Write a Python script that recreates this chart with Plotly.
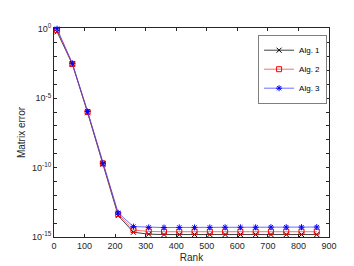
import plotly.graph_objects as go

rank = [10, 60, 110, 160, 210, 260, 310, 360, 410, 460, 510, 560, 610, 660, 710, 760, 810, 860]
alg1 = [0.6, 2.8e-3, 8.9e-7, 1.8e-10, 3.5e-14, 2.2e-15, 1.6e-15, 1.5e-15, 1.5e-15, 1.5e-15, 1.5e-15,
        1.5e-15, 1.5e-15, 1.5e-15, 1.5e-15, 1.5e-15, 1.5e-15, 1.5e-15]
alg2 = [0.8, 2.9e-3, 1.0e-6, 2.0e-10, 4.5e-14, 3.2e-15, 2.5e-15, 2.4e-15, 2.4e-15, 2.4e-15, 2.4e-15,
        2.4e-15, 2.4e-15, 2.4e-15, 2.4e-15, 2.4e-15, 2.4e-15, 2.4e-15]
alg3 = [1.0, 3.2e-3, 1.1e-6, 2.0e-10, 5.5e-14, 5.6e-15, 4.9e-15, 4.8e-15, 4.9e-15, 4.9e-15, 4.9e-15,
        5.0e-15, 5.0e-15, 5.0e-15, 5.1e-15, 5.1e-15, 5.1e-15, 5.2e-15]
names = ["Alg. 1", "Alg. 2", "Alg. 3"]
x_ticks = [0, 100, 200, 300, 400, 500, 600, 700, 800, 900]
y_major_exps = [0, -5, -10, -15]
y_minor_exps = list(range(0, -16, -1))

fig = go.Figure()
styles = [
    (alg1, "rgba(0,0,0,0.75)", "black", "x-thin-open"),
    (alg2, "rgba(255,60,60,0.75)", "red", "square-open"),
    (alg3, "rgba(60,60,255,0.75)", "blue", "asterisk-open"),
]
for (vals, lc, mc, sym), nm in zip(styles, names):
    fig.add_trace(go.Scatter(
        x=rank, y=vals, name=nm, mode="lines+markers",
        line=dict(color=lc, width=1),
        marker=dict(symbol=sym, size=5, color=mc, line=dict(color=mc, width=1)),
        cliponaxis=False,
    ))

axcol = "#262626"
yvals = [10.0 ** e for e in y_major_exps]
ytext = ["10<sup>%d</sup>" % e for e in y_major_exps]
yminor = [10.0 ** e for e in y_minor_exps]

fig.update_layout(
    width=354, height=266,
    margin=dict(l=46, r=33, t=20, b=29),
    paper_bgcolor="white", plot_bgcolor="white",
    font=dict(family="Liberation Sans, Arial, sans-serif", size=9, color=axcol),
    showlegend=True,
    legend=dict(x=0.993, y=0.968, xanchor="right", yanchor="top",
                bgcolor="white", bordercolor="#7f7f7f", borderwidth=1,
                font=dict(size=8, color="black"), tracegroupgap=0, itemwidth=30),
    xaxis=dict(range=[0, 900], tickvals=x_ticks, ticks="inside", ticklen=3,
               showline=True, mirror="ticks", linecolor=axcol, linewidth=1,
               tickcolor=axcol, showgrid=False, zeroline=False,
               title=dict(text="Rank", font=dict(size=10), standoff=4)),
    yaxis=dict(type="log", range=[-15, 0.05], tickvals=yvals, ticktext=ytext,
               ticks="inside", ticklen=3,
               minor=dict(tickvals=yminor, ticks="inside", ticklen=3, tickcolor=axcol, showgrid=False),
               showline=True, mirror="ticks", linecolor=axcol, linewidth=1,
               tickcolor=axcol, showgrid=False, zeroline=False,
               title=dict(text="Matrix error", font=dict(size=10), standoff=4)),
)

fig.write_html("out.html")
